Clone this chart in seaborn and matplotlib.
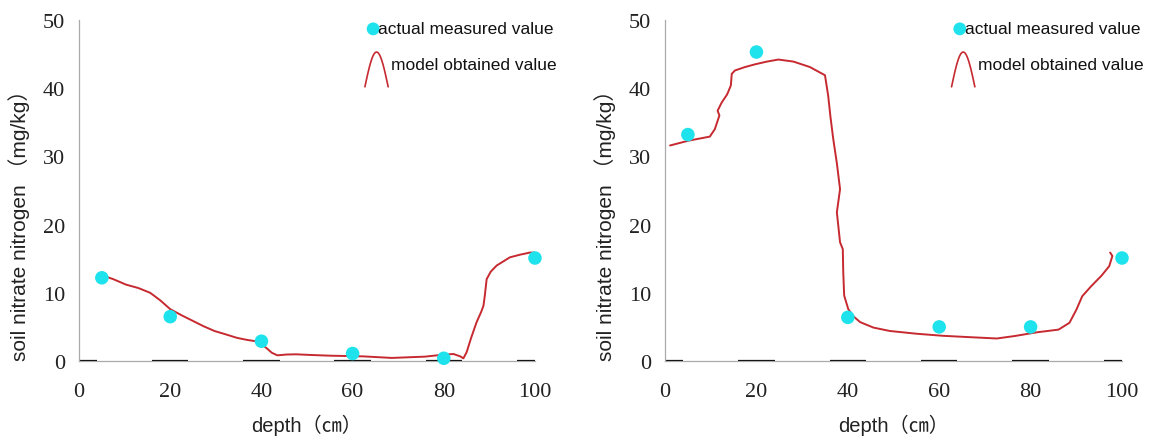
import numpy as np
import pandas as pd
import seaborn as sns
import matplotlib.pyplot as plt

# measured values (depth in cm, nitrate in mg/kg)
depth_measured = [5, 20, 40, 60, 80, 100]
left_measured = [12.2, 6.5, 2.9, 1.1, 0.4, 15.1]
right_measured = [33.2, 45.3, 6.4, 5.0, 5.0, 15.1]

# model curves
left_model_x = [4.5, 7.5, 10.3, 13.0, 15.6, 17.8, 20.0, 22.5, 24.9, 27.3, 29.7, 32.2,
                34.6, 36.8, 38.7, 40.0, 41.1, 42.3, 43.5, 45.5, 47.6, 51.0, 55.0,
                62.3, 68.6, 75.9, 79.2, 82.1, 83.6, 84.3, 85.0, 86.0, 87.2, 88.2,
                88.7, 89.0, 89.4, 90.3, 91.6, 94.5, 96.8, 98.9, 100.0]
left_model_y = [12.7, 12.0, 11.2, 10.7, 10.0, 8.9, 7.6, 6.7, 5.9, 5.1, 4.4, 3.9,
                3.4, 3.1, 2.9, 2.5, 1.9, 1.2, 0.83, 0.95, 0.98, 0.88, 0.78,
                0.68, 0.45, 0.64, 0.88, 1.03, 0.68, 0.39, 1.27, 3.4, 5.7, 7.2,
                8.1, 9.6, 12.0, 13.1, 14.0, 15.2, 15.6, 15.9, 15.9]
right_model_x = [1.1, 5.1, 9.8, 10.9, 11.9, 11.5, 12.4, 13.6, 14.4, 14.6, 15.3, 17.5,
                 19.7, 22.3, 24.8, 28.1, 31.7, 35.0, 35.7, 36.2, 36.8, 37.6, 38.3,
                 37.6, 38.3, 38.9, 39.0, 39.2, 40.1, 41.3, 42.7, 45.6, 49.2, 55.0,
                 60.7, 66.5, 72.6, 76.6, 81.3, 86.1, 88.5, 90.0, 91.3, 93.3, 95.5,
                 97.2, 97.9, 97.4]
right_model_y = [31.6, 32.3, 32.9, 34.0, 36.0, 36.7, 37.9, 39.1, 40.4, 42.1, 42.6, 43.1,
                 43.5, 43.9, 44.2, 43.9, 43.1, 41.9, 38.9, 35.8, 32.6, 29.0, 25.2,
                 21.8, 17.4, 16.4, 13.0, 9.6, 7.6, 6.5, 5.7, 4.9, 4.4, 4.0,
                 3.7, 3.5, 3.3, 3.67, 4.2, 4.6, 5.6, 7.5, 9.5, 11.0, 12.5,
                 13.9, 15.4, 15.9]

x_ticks = [0, 20, 40, 60, 80, 100]
y_ticks = [0, 10, 20, 30, 40, 50]

sns.set_style("white")
plt.rcParams['font.family'] = ['Liberation Sans', 'Noto Sans CJK SC', 'DejaVu Sans']

fig = plt.figure(figsize=(11.49, 4.39), dpi=100)
ax1 = fig.add_axes([0.0688, 0.1754, 0.3968, 0.7768])
ax2 = fig.add_axes([0.5788, 0.1754, 0.3977, 0.7768])

panels = [
    (ax1, left_measured, left_model_x, left_model_y),
    (ax2, right_measured, right_model_x, right_model_y),
]

for ax, meas, mx, my in panels:
    model = pd.DataFrame({'depth': mx, 'value': my})
    sns.lineplot(data=model, x='depth', y='value', sort=False, estimator=None,
                 color='#c62a30', linewidth=1.4, ax=ax)
    pts = pd.DataFrame({'depth': depth_measured, 'value': meas})
    sns.scatterplot(data=pts, x='depth', y='value', color='#1fe3ec', s=95,
                    edgecolor='none', ax=ax, clip_on=False, zorder=3)

    ax.set_xlim(0, 100)
    ax.set_ylim(0, 50)
    ax.set_xticks(x_ticks)
    ax.set_yticks(y_ticks)
    for lab in ax.get_xticklabels() + ax.get_yticklabels():
        lab.set_family('Liberation Serif')
        lab.set_fontsize(16)
    ax.tick_params(axis='both', direction='in', length=4, width=0.8,
                   color='#999999', labelcolor='#222222')
    ax.tick_params(axis='x', pad=15)
    ax.tick_params(axis='y', pad=10)
    for side in ['top', 'right']:
        ax.spines[side].set_visible(False)
    for side in ['left', 'bottom']:
        ax.spines[side].set_color('#aaaaaa')
        ax.spines[side].set_linewidth(0.9)

    # dark dashes along the baseline around each tick
    for t in x_ticks:
        ax.hlines(0, max(t - 4, 0), min(t + 4, 100), color='black',
                  linewidth=1.6, zorder=2)

    ax.set_xlabel('depth（㎝）', fontsize=14.5, color='#222222')
    ax.set_ylabel('soil nitrate nitrogen （mg/kg）', fontsize=15, color='#222222')
    ax.xaxis.set_label_coords(0.5, -0.155)
    ax.yaxis.set_label_coords(-0.108, 0.415)

    # hand-drawn style legend
    ax.scatter([0.645], [0.974], transform=ax.transAxes, s=85, color='#1fe3ec',
               edgecolor='none', clip_on=False, zorder=3)
    ax.text(0.656, 0.974, 'actual measured value', transform=ax.transAxes,
            fontsize=12.5, va='center', ha='left', color='#111111')
    arc_t = np.linspace(0, 1, 30)
    arc_x = 0.627 + 0.051 * arc_t
    arc_y = 0.804 + 0.102 * np.sin(np.pi * arc_t)
    ax.plot(arc_x, arc_y, transform=ax.transAxes, color='#c62a30',
            linewidth=1.2, clip_on=False)
    ax.text(0.684, 0.868, 'model obtained value', transform=ax.transAxes,
            fontsize=12.5, va='center', ha='left', color='#111111')

fig.savefig('out.png', dpi=100)
